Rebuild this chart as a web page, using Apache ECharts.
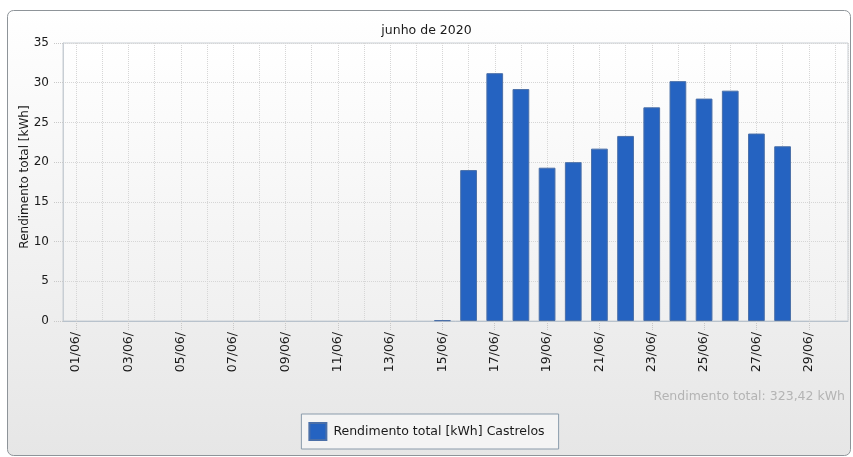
<!DOCTYPE html>
<html><head><meta charset="utf-8">
<script src="https://cdn.jsdelivr.net/npm/echarts@6/dist/echarts.min.js"></script>
<style>html,body{margin:0;padding:0;background:#fff}#c{width:853px;height:457px}</style>
</head><body><div id="c"></div>
<script>
const categories = ['01/06/','02/06/','03/06/','04/06/','05/06/','06/06/','07/06/','08/06/','09/06/','10/06/',
  '11/06/','12/06/','13/06/','14/06/','15/06/','16/06/','17/06/','18/06/','19/06/','20/06/',
  '21/06/','22/06/','23/06/','24/06/','25/06/','26/06/','27/06/','28/06/','29/06/','30/06/'];
const values = [null,null,null,null,null,null,null,null,null,null,
  null,null,null,null,0.1,19.0,31.2,29.2,19.3,20.0,
  21.7,23.3,26.9,30.2,28.0,29.0,23.6,22.0,null,null];
const yTicks = [0,5,10,15,20,25,30,35];
const seriesName = 'Rendimento total [kWh] Castrelos';
const titleText = 'junho de 2020';
const yName = 'Rendimento total [kWh]';
const totalText = 'Rendimento total: 323,42 kWh';

// half-day helper axis, used only to draw the dotted vertical grid at each day's centre
const halfSlots = categories.flatMap(c => [c + 'a', c + 'b']);

const FONT = 'DejaVu Sans';
const chart = echarts.init(document.getElementById('c'));
chart.setOption({
  animation: false,
  textStyle: {fontFamily: FONT},
  graphic: [
    {type:'rect', z:-10, shape:{x:7.5,y:10.5,width:843,height:445,r:6},
     style:{fill:new echarts.graphic.LinearGradient(0,0,0,1,[{offset:0,color:'#ffffff'},{offset:1,color:'#e6e6e6'}]),
            stroke:'#8e9499', lineWidth:1}},
    {type:'text', right:8, top:390, style:{text: totalText, fill:'#b4b4b4', font:'12.5px "'+FONT+'"'}}
  ],
  title: {text: titleText, left: 'center', top: 19,
          textStyle:{fontSize:12.5, fontWeight:'normal', color:'#1a1a1a', fontFamily: FONT}},
  legend: {bottom: 8, left: 'center', itemWidth: 17, itemHeight: 17, itemGap: 8, icon: 'rect',
           padding: [8,14,8,7], borderColor:'#8a9bab', borderWidth:1, backgroundColor:'#f4f4f4',
           textStyle:{fontSize:12.5, color:'#1a1a1a', fontFamily: FONT, padding:[0,0,0,2]}},
  grid: {left: 63, right: 5, top: 43, bottom: 136, show: true, borderColor:'#c8ced4', borderWidth:1,
         backgroundColor: new echarts.graphic.LinearGradient(0,0,0,1,[{offset:0,color:'#ffffff'},{offset:1,color:'#f0f0f0'}])},
  xAxis: [
    {type:'category', data: categories,
      axisLine:{show:true, lineStyle:{color:'#b8c2cc'}},
      axisTick:{show:true, alignWithLabel:true, interval:1, length:9, lineStyle:{color:'#c8c8c8', type:'dotted'}},
      splitLine:{show:false},
      axisLabel:{interval:1, rotate:90, fontSize:12.5, color:'#1a1a1a', margin:11, fontFamily: FONT}},
    {type:'category', data: halfSlots, position:'bottom', show:true,
      axisLine:{show:false}, axisTick:{show:false}, axisLabel:{show:false},
      splitLine:{show:true, interval:(i) => i % 2 === 1, lineStyle:{color:'#d6d6d6', type:'dotted'}}}
  ],
  yAxis: {type:'value', min:0, max:35, interval:5, name: yName, nameLocation:'middle', nameGap:32,
    nameMoveOverlap:false,
    nameTextStyle:{fontSize:12, color:'#1a1a1a', fontFamily: FONT, padding:[0,0,0,10]},
    axisLine:{show:true, lineStyle:{color:'#c8ced4'}},
    axisTick:{show:true, length:9, lineStyle:{color:'#c8c8c8', type:'dotted'}},
    splitLine:{show:true, lineStyle:{color:'#d6d6d6', type:'dotted'}},
    axisLabel:{fontSize:12, color:'#1a1a1a', margin:14, fontFamily: FONT,
      formatter: v => yTicks.includes(v) ? String(v) : ''}},
  series: [{type:'bar', name: seriesName, data: values, barWidth:'64%', xAxisIndex:0,
    itemStyle:{color:'#2563c1', borderColor:'#4a6fa8', borderWidth:1}}]
});
</script></body></html>
